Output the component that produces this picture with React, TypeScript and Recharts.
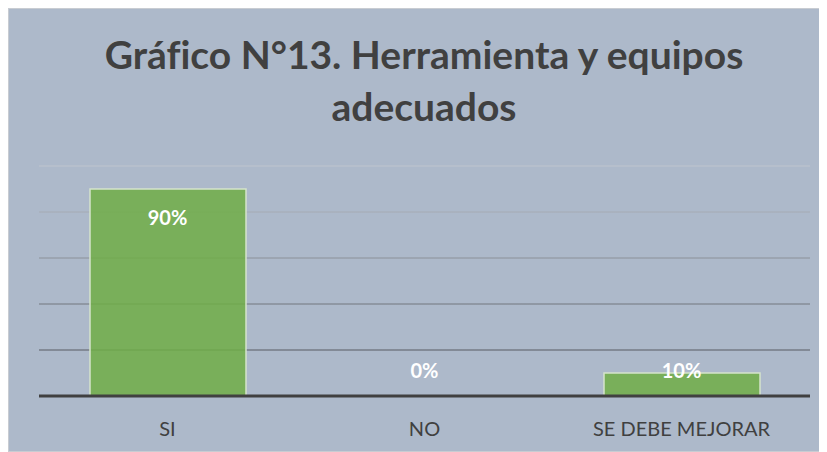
import { ComposedChart, Bar, Scatter, XAxis, YAxis, CartesianGrid } from 'recharts';

const categories = ['SI', 'NO', 'SE DEBE MEJORAR'];
const shares = [0.9, 0, 0.1];
const gridTicks = [0, 0.2, 0.4, 0.6, 0.8, 1];
const titleLines = ['Gráfico N°13. Herramienta y equipos', 'adecuados'];

const data = categories.map((name, i) => ({ name, value: shares[i] }));

const FONT = 'Lato, "Open Sans", sans-serif';
const TEXT = '#404040';

const W = 817;
const H = 442;
const MARGIN = { top: 157, right: 16, bottom: 25, left: 30 };
const XAXIS_H = 30;
const PLOT_BOTTOM = H - MARGIN.bottom - XAXIS_H;

// data label: inside the top of tall bars, just above the axis for short ones
function ValueLabel(props: any) {
  const { cx, cy, payload } = props;
  const v = payload?.value ?? 0;
  const ty = PLOT_BOTTOM - cy > 50 ? cy + 28 : PLOT_BOTTOM - 26;
  return (
    <text
      x={cx}
      y={ty}
      textAnchor="middle"
      dominantBaseline="central"
      fill="#ffffff"
      fontFamily={FONT}
      fontWeight={700}
      fontSize={20}
    >
      {`${Math.round(v * 100)}%`}
    </text>
  );
}

export default function App() {
  return (
    <div
      style={{
        position: 'relative',
        width: 819,
        height: 444,
        boxSizing: 'border-box',
        border: '1px solid #C8CCD2',
        background: '#ADB9CA',
      }}
    >
      <svg width={W} height={140} style={{ position: 'absolute', left: 0, top: 0 }}>
        {titleLines.map((line, i) => (
          <text
            key={line}
            x={415}
            y={60 + i * 52}
            textAnchor="middle"
            fill={TEXT}
            fontFamily={FONT}
            fontWeight={700}
            fontSize={39}
            style={{ fontVariantLigatures: 'none' }}
          >
            {line}
          </text>
        ))}
      </svg>
      <ComposedChart
        width={W}
        height={H}
        data={data}
        margin={MARGIN}
        style={{ position: 'absolute', left: 0, top: 0 }}
      >
        <defs>
          <linearGradient id="gridFade" gradientUnits="userSpaceOnUse" x1="0" y1="157" x2="0" y2="387">
            <stop offset="0%" stopColor="#B9C1CD" />
            <stop offset="100%" stopColor="#636973" />
          </linearGradient>
        </defs>
        <CartesianGrid vertical={false} stroke="url(#gridFade)" strokeWidth={1.5} />
        <YAxis hide domain={[0, 1]} ticks={gridTicks} />
        <XAxis
          dataKey="name"
          height={XAXIS_H}
          tickLine={false}
          tickSize={0}
          tickMargin={26}
          axisLine={{ stroke: '#404040', strokeWidth: 3 }}
          tick={{ fill: TEXT, fontFamily: FONT, fontSize: 20 }}
        />
        <Bar
          dataKey="value"
          barSize={156}
          fill="#70AD47"
          fillOpacity={0.85}
          stroke="#D5E4CC"
          strokeWidth={1.5}
          isAnimationActive={false}
        />
        <Scatter dataKey="value" shape={<ValueLabel />} isAnimationActive={false} />
      </ComposedChart>
    </div>
  );
}
